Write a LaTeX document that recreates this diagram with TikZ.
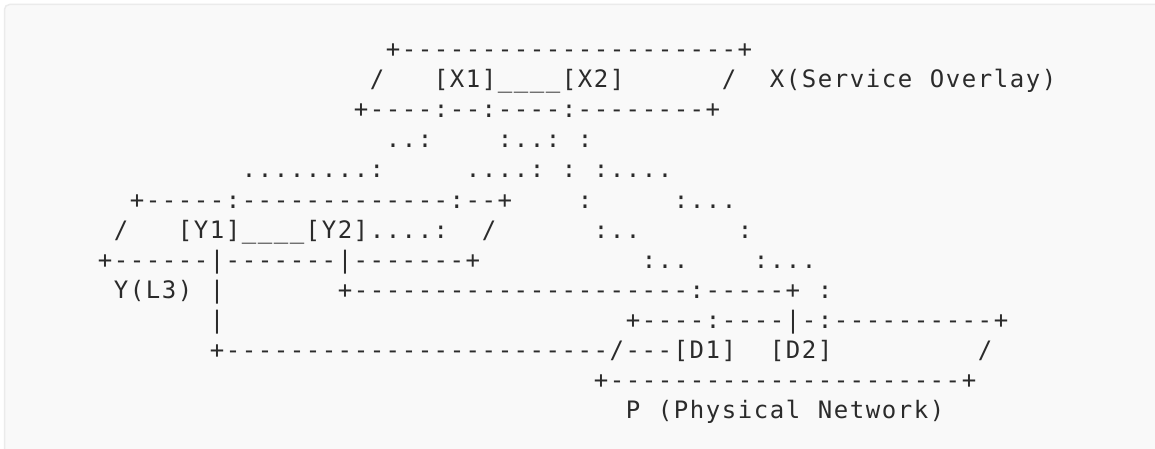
\documentclass[tikz,border=0pt]{standalone}
\usepackage{fontspec}
\newfontfamily\asciifont{DejaVu Sans Mono}
\definecolor{textgray}{HTML}{2B2B2B}
\definecolor{bgcol}{HTML}{F9F9F9}
\definecolor{bordercol}{HTML}{EBEBEB}
\def\asciirow#1{\ifx#1\relax\else\makebox[16pt]{#1}\expandafter\asciirow\fi}
\newcommand\seg[4]{\node[seg] (#1) at ({97+16*#3},{-58-30*(#2-1)}) {\asciirow #4\relax};}
\tikzset{seg/.style={anchor=base west, inner sep=0pt, outer sep=0pt, text=textgray,
  font=\asciifont\fontsize{24pt}{30pt}\selectfont}}
\begin{document}
\begin{tikzpicture}[x=1pt,y=1pt]
\useasboundingbox (0,0) rectangle (1155,-449);
\fill[white] (0,0) rectangle (1155,-449);
\draw[fill=bgcol, draw=bordercol, line width=1.5pt, rounded corners=5pt] (4.5,-4.5) rectangle (1175,-470);
% line 1
\seg{xtop}{1}{18}{+---------------------+}
% line 2
\seg{xl}{2}{17}{/}
\seg{xnodes}{2}{21}{[X1]\_\_\_\_[X2]}
\seg{xr}{2}{39}{/}
\seg{xlab1}{2}{42}{X(Service}
\seg{xlab2}{2}{52}{Overlay)}
% line 3
\seg{xbot}{3}{16}{+----:--:----:--------+}
% line 4
\seg{a4}{4}{18}{..:}
\seg{b4}{4}{25}{:..:}
\seg{c4}{4}{30}{:}
% line 5
\seg{a5}{5}{9}{........:}
\seg{b5}{5}{23}{....:}
\seg{c5}{5}{29}{:}
\seg{d5}{5}{31}{:....}
% line 6
\seg{ytop}{6}{2}{+-----:-------------:--+}
\seg{b6}{6}{30}{:}
\seg{c6}{6}{36}{:...}
% line 7
\seg{yl}{7}{1}{/}
\seg{ynodes}{7}{5}{[Y1]\_\_\_\_[Y2]....:}
\seg{yr}{7}{24}{/}
\seg{b7}{7}{31}{:..}
\seg{c7}{7}{40}{:}
% line 8
\seg{ybot}{8}{0}{+------|-------|-------+}
\seg{b8}{8}{34}{:..}
\seg{c8}{8}{41}{:...}
% line 9
\seg{ylab}{9}{1}{Y(L3)}
\seg{v9}{9}{7}{|}
\seg{h9}{9}{15}{+---------------------:-----+}
\seg{c9}{9}{45}{:}
% line 10
\seg{v10}{10}{7}{|}
\seg{ptop}{10}{33}{+----:----|-:----------+}
% line 11
\seg{h11}{11}{7}{+------------------------/---[D1]}
\seg{d2}{11}{42}{[D2]}
\seg{pr}{11}{55}{/}
% line 12
\seg{pbot}{12}{31}{+----------------------+}
% line 13
\seg{plab1}{13}{33}{P}
\seg{plab2}{13}{35}{(Physical}
\seg{plab3}{13}{45}{Network)}
\end{tikzpicture}
\end{document}
